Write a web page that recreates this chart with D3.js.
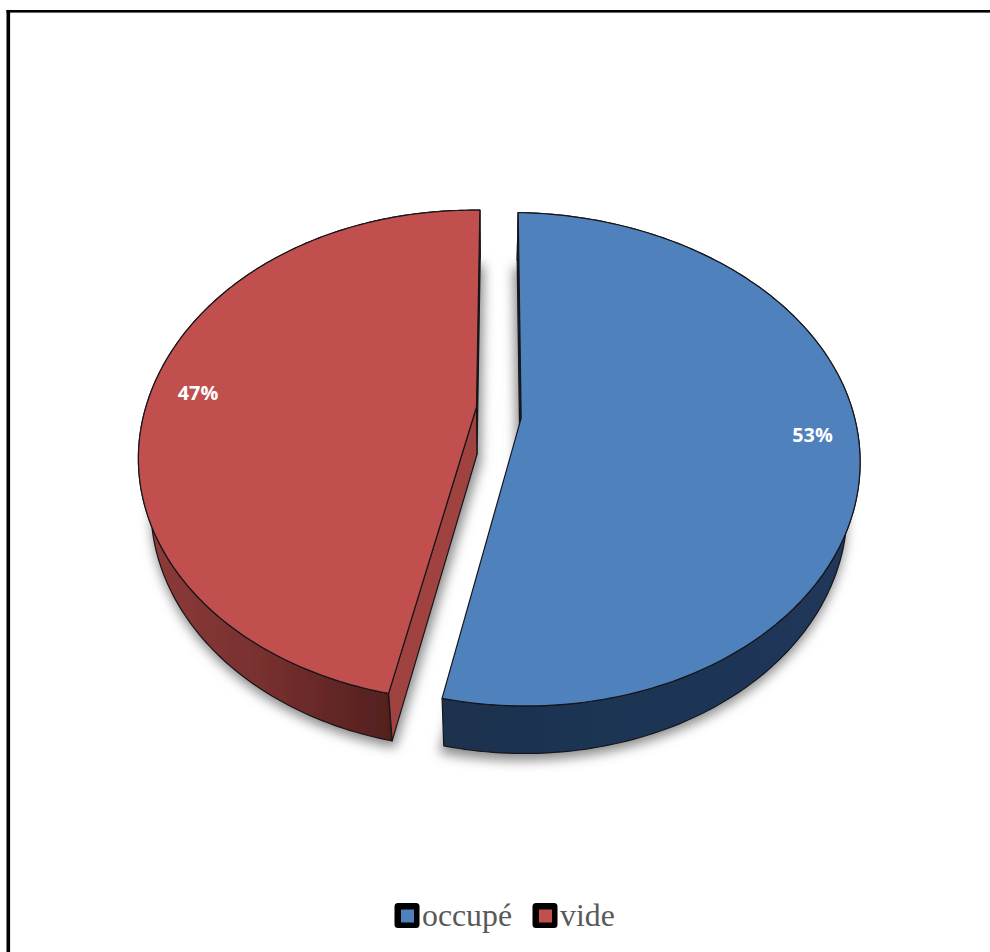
<!DOCTYPE html>
<html><head><meta charset="utf-8">
<script src="https://cdn.jsdelivr.net/npm/d3@7"></script>
<style>html,body{margin:0;padding:0;background:#fff;overflow:hidden}svg{display:block}</style>
</head><body><svg id="c" width="990" height="952"></svg>
<script>
const categories = ["occupé", "vide"];
const values = [53, 47];
const labels = ["53%", "47%"];
const topColors = ["#4f81bd", "#c0504d"];

const svg = d3.select("#c");
const defs = svg.append("defs");
const blur = defs.append("filter").attr("id","sh").attr("x","-10%").attr("y","-10%").attr("width","120%").attr("height","120%");
blur.append("feGaussianBlur").attr("stdDeviation",6);
const soft = defs.append("filter").attr("id","soft");
soft.append("feGaussianBlur").attr("stdDeviation",0.45);

const g1 = defs.append("linearGradient").attr("id","redSide").attr("gradientUnits","userSpaceOnUse")
  .attr("x1",150).attr("y1",0).attr("x2",392).attr("y2",0);
g1.append("stop").attr("offset",0).attr("stop-color","#8c3b39");
g1.append("stop").attr("offset",0.5).attr("stop-color","#762f2e");
g1.append("stop").attr("offset",1).attr("stop-color","#521f1e");
const g2 = defs.append("linearGradient").attr("id","blueSide").attr("gradientUnits","userSpaceOnUse")
  .attr("x1",444).attr("y1",0).attr("x2",850).attr("y2",0);
g2.append("stop").attr("offset",0).attr("stop-color","#1d324f");
g2.append("stop").attr("offset",1).attr("stop-color","#20375a");

// projection of the tilted disc
const x0 = 498.8, y0 = 415.2, A = 332.8, B = 238.8, k = 0.1717, farLean = 6;
const project = (X, Y) => {
  const far = Math.max(Y, 0);
  return [x0 + A * X / (1 + k * Y) - farLean * far * far, y0 - B * Y / (1 + k * Y)];
};
const explode = 0.0675, explodeDir = 96 * Math.PI / 180, turn = 1.25 * Math.PI / 180;
const apexLift = [1.3, -6.5];
const depth = 47.5, shrink = 0.965, xc = 490;
const down = p => [xc + (p[0] - xc) * shrink, p[1] + depth];
const gapShift = [-4, 4];
const shadowDrop = i => p => [xc + (p[0] - xc) * 0.975 + gapShift[i], p[1] + depth + 7];

const pie = d3.pie().sort(null).value(d => d).startAngle(turn).endAngle(turn + 2 * Math.PI);
const arcs = pie(values);
const line = d3.line();

const slices = arcs.map((a, i) => {
  const sign = i === 0 ? 1 : -1;
  const ox = sign * explode * Math.sin(explodeDir), oy = sign * explode * Math.cos(explodeDir);
  const arc = d3.range(0, 181).map(t => {
    const th = a.startAngle + (a.endAngle - a.startAngle) * t / 180;
    return project(ox + Math.sin(th), oy + Math.cos(th));
  });
  const ap = project(ox, oy);
  return { apex: [ap[0], ap[1] + apexLift[i]], arc };
});

const root = svg.append("g").attr("filter","url(#soft)");

// frame
root.append("rect").attr("x",6.5).attr("y",10).attr("width",984).attr("height",2.6).attr("fill","#000");
root.append("rect").attr("x",6.5).attr("y",10).attr("width",3.6).attr("height",942).attr("fill","#000");

// shadow
const shadow = root.append("g").attr("filter","url(#sh)");
slices.forEach((s, i) => {
  shadow.append("path").attr("d", line([s.apex, ...s.arc].map(shadowDrop(i))) + "Z").attr("fill","#8a8a8a");
});

const stroke = "#16161a", sw = 1.2;
const face = (g, pts, fill) => g.append("path").attr("d", line(pts) + "Z")
  .attr("fill", fill).attr("stroke", stroke).attr("stroke-width", sw).attr("stroke-linejoin","round");
const wall = (g, a, b, fill) => face(g, [a, b, down(b), down(a)], fill);
const outer = (g, s, fill) => face(g, [...s.arc, ...s.arc.map(down).reverse()], fill);

// red slice: arc runs from near corner up to the far edge
const gr = root.append("g"), red = slices[1];
wall(gr, red.arc[red.arc.length - 1], red.apex, "#6e2c2a");
outer(gr, red, "url(#redSide)");
wall(gr, red.apex, red.arc[0], "#a04340");
face(gr, [red.apex, ...red.arc], topColors[1]);

// blue slice: arc runs from far edge round to near corner
const gb = root.append("g"), blue = slices[0];
wall(gb, blue.arc[0], blue.apex, "#14253c");
outer(gb, blue, "url(#blueSide)");
face(gb, [blue.apex, ...blue.arc], topColors[0]);

// value labels
const labelPos = [[812.5, 442], [198, 400]];
labels.forEach((t, i) => {
  svg.append("text").attr("x", labelPos[i][0]).attr("y", labelPos[i][1])
    .attr("text-anchor","middle").attr("font-family","'Open Sans',sans-serif").attr("font-weight",700)
    .attr("font-size",19.8).attr("fill","#fff").text(t);
});

// legend
const swatchX = [394.5, 532.5], textX = [422, 560];
categories.forEach((c, i) => {
  root.append("rect").attr("x", swatchX[i]).attr("y", 903).attr("width", 25).attr("height", 25).attr("rx", 3.5).attr("fill","#000");
  root.append("rect").attr("x", swatchX[i] + 6.5).attr("y", 909.5).attr("width", 13).attr("height", 13).attr("fill", topColors[i]);
  svg.append("text").attr("x", textX[i]).attr("y", 925.5).attr("font-family","'Liberation Serif',serif")
    .attr("font-size",31.8).attr("fill","#595959").text(c);
});
</script></body></html>
